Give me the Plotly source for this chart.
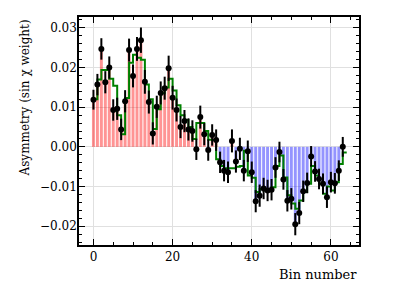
import plotly.graph_objects as go

bins = list(range(64))

asym = [0.0119, 0.0157, 0.0247, 0.0163, 0.0200, 0.0093, 0.0096, 0.0044,
        0.0115, 0.0244, 0.0179, 0.0247, 0.0269, 0.0164, 0.0113, 0.0034,
        0.0101, 0.0136, 0.0148, 0.0198, 0.0124, 0.0093, 0.0050, 0.0065,
        0.0044, 0.0040, -0.0006, 0.0075, 0.0032, -0.0008, 0.0030, 0.0017,
        -0.0039, -0.0060, -0.0064, 0.0015, -0.0037, -0.0005, -0.0060, -0.0011,
        -0.0064, -0.0137, -0.0123, -0.0105, -0.0110, -0.0108, -0.0052, -0.0013,
        -0.0082, -0.0136, -0.0131, -0.0195, -0.0167, -0.0112, -0.0091, -0.0024,
        -0.0062, -0.0081, -0.0093, -0.0127, -0.0089, -0.0092, -0.0060, 0.0000]

err = [0.0025, 0.0027, 0.0027, 0.0028, 0.0028, 0.0027, 0.0028, 0.0027,
       0.0028, 0.0029, 0.0029, 0.0030, 0.0032, 0.0030, 0.0029, 0.0028,
       0.0028, 0.0029, 0.0029, 0.0032, 0.0030, 0.0029, 0.0028, 0.0028,
       0.0028, 0.0027, 0.0027, 0.0029, 0.0028, 0.0027, 0.0027, 0.0027,
       0.0027, 0.0027, 0.0027, 0.0029, 0.0028, 0.0028, 0.0027, 0.0027,
       0.0027, 0.0028, 0.0028, 0.0027, 0.0027, 0.0027, 0.0026, 0.0026,
       0.0026, 0.0027, 0.0027, 0.0028, 0.0028, 0.0027, 0.0026, 0.0026,
       0.0026, 0.0026, 0.0026, 0.0027, 0.0026, 0.0026, 0.0026, 0.0025]

model = [0.0120, 0.0170, 0.0194, 0.0194, 0.0172, 0.0154, 0.0080, 0.0032,
         0.0123, 0.0212, 0.0232, 0.0225, 0.0220, 0.0157, 0.0120, 0.0045,
         0.0095, 0.0135, 0.0150, 0.0172, 0.0142, 0.0105, 0.0080, 0.0068,
         0.0050, 0.0020, 0.0060, 0.0060, 0.0040, 0.0018, 0.0017, -0.0031,
         -0.0048, -0.0054, -0.0054, -0.0054, -0.0050, -0.0048, -0.0010, -0.0072,
         -0.0078, -0.0114, -0.0106, -0.0110, -0.0110, -0.0102, -0.0048, -0.0022,
         -0.0077, -0.0122, -0.0143, -0.0156, -0.0135, -0.0114, -0.0093, -0.0048,
         -0.0072, -0.0093, -0.0118, -0.0100, -0.0110, -0.0089, -0.0043, -0.0014]

x_ticks = [0, 20, 40, 60]
y_ticks = [-0.02, -0.01, 0.00, 0.01, 0.02, 0.03]

bar_colors = ['rgba(255,0,0,0.42)' if v >= 0 else 'rgba(0,0,255,0.42)' for v in asym]

fig = go.Figure()
fig.add_trace(go.Bar(x=bins, y=asym, width=0.75, marker=dict(color=bar_colors, line=dict(width=0))))
fig.add_trace(go.Scatter(x=bins + [len(bins)], y=model + [model[-1]], mode='lines',
                         line=dict(shape='hv', color='#008000', width=2)))
fig.add_trace(go.Scatter(x=bins, y=asym, mode='markers',
                         marker=dict(color='black', size=6),
                         error_y=dict(type='data', array=err, color='black', thickness=2, width=0)))

font = 'DejaVu Serif'
axis_common = dict(
    ticks='inside', ticklen=6, tickwidth=1.2, tickcolor='black',
    showline=True, linecolor='black', linewidth=1.5, mirror='allticks',
    showgrid=True, gridcolor='#e0e0e0', gridwidth=1, zeroline=False,
    tickfont=dict(family=font, size=12, color='black'),
)
fig.update_layout(
    width=399, height=299,
    margin=dict(l=71, r=48, t=7, b=62),
    plot_bgcolor='white', paper_bgcolor='white',
    showlegend=False,
    xaxis=dict(range=[-3.65, 67.1], tickvals=x_ticks,
               minor=dict(ticks='inside', dtick=5, tick0=0, ticklen=3, tickcolor='black', showgrid=False),
               **axis_common),
    yaxis=dict(range=[-0.02475, 0.03275], tickvals=y_ticks, tickformat='.2f',
               ticklabelstandoff=-2,
               minor=dict(ticks='inside', dtick=0.002, tick0=0, ticklen=3, tickcolor='black', showgrid=False),
               **axis_common),
    annotations=[
        dict(text='Bin number', xref='paper', yref='paper', x=1.0, y=-0.13,
             xanchor='right', yanchor='middle', showarrow=False,
             font=dict(family=font, size=13, color='black')),
        dict(text='Asymmetry (sin χ weight)', xref='paper', yref='paper', x=-0.193, y=1.0,
             xanchor='center', yanchor='top', textangle=-90, showarrow=False,
             font=dict(family=font, size=12, color='black')),
    ],
)

fig.write_html('out.html')
